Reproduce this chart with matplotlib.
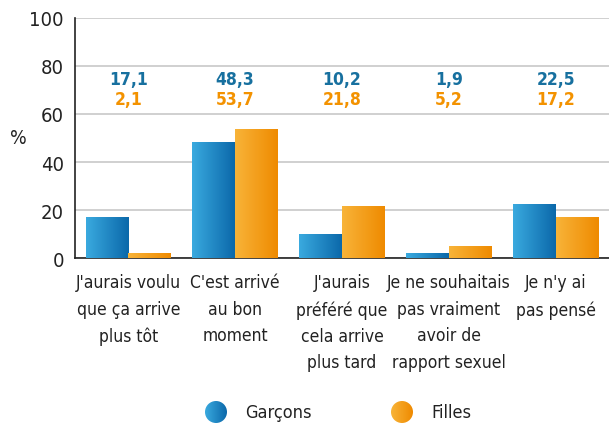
import matplotlib
import matplotlib.pyplot as plt
import numpy as np
from matplotlib.colors import LinearSegmentedColormap
from matplotlib.patches import Circle

matplotlib.use('agg')

categories = ["J'aurais voulu\nque ça arrive\nplus tôt",
              "C'est arrivé\nau bon\nmoment",
              "J'aurais\npréféré que\ncela arrive\nplus tard",
              "Je ne souhaitais\npas vraiment\navoir de\nrapport sexuel",
              "Je n'y ai\npas pensé"]
garcons = [17.1, 48.3, 10.2, 1.9, 22.5]
filles = [2.1, 53.7, 21.8, 5.2, 17.2]
series_names = ['Garçons', 'Filles']

plt.rcParams['font.family'] = ['DejaVu Sans']
plt.rcParams['font.stretch'] = 'condensed'

blue_cmap = LinearSegmentedColormap.from_list('b', ['#3aaadf', '#0b68aa'])
orange_cmap = LinearSegmentedColormap.from_list('o', ['#f8b439', '#ef8a00'])
text_col = '#222222'

fig = plt.figure(figsize=(6.09, 4.31), dpi=100)
ax = fig.add_axes([0.123, 0.399, 0.877, 0.557])

x = np.arange(len(categories))
w = 0.4
grad = np.linspace(0, 1, 256).reshape(1, -1)


def gradient_fill(axis, patch, cmap, box):
    patch.set_facecolor('none')
    patch.set_edgecolor('none')
    im = axis.imshow(grad, cmap=cmap, aspect='auto', zorder=3, extent=box)
    im.set_clip_path(patch)


b1 = ax.bar(x - w / 2, garcons, w, zorder=3)
b2 = ax.bar(x + w / 2, filles, w, zorder=3)
for bars, cmap in [(b1, blue_cmap), (b2, orange_cmap)]:
    for b in bars:
        x0, y0 = b.get_x(), b.get_y()
        gradient_fill(ax, b, cmap, [x0, x0 + b.get_width(), y0, y0 + b.get_height()])

for i in range(len(categories)):
    ax.text(x[i], 74.6, f'{garcons[i]:.1f}'.replace('.', ','), ha='center', va='center',
            color='#17709f', fontsize=12.5, fontweight='bold')
    ax.text(x[i], 66.3, f'{filles[i]:.1f}'.replace('.', ','), ha='center', va='center',
            color='#f39200', fontsize=12.5, fontweight='bold')

ax.set_xlim(-0.5, 4.5)
ax.set_ylim(0, 100)
ax.set_yticks([0, 20, 40, 60, 80, 100])
ax.set_xticks(x)
ax.set_xticklabels(categories, fontsize=12.5, color=text_col, linespacing=1.6)
ax.tick_params(axis='both', length=0, colors=text_col)
ax.tick_params(axis='y', pad=8, labelsize=14.5)
ax.tick_params(axis='x', pad=11)
ax.yaxis.grid(True, color='#c8c8c8', linewidth=1.2)
ax.set_axisbelow(True)
for s in ['top', 'right']:
    ax.spines[s].set_visible(False)
for s in ['left', 'bottom']:
    ax.spines[s].set_color(text_col)
    ax.spines[s].set_linewidth(1.2)
ax.set_ylabel('%', rotation=0, fontsize=14, color=text_col, va='center')
ax.yaxis.set_label_coords(-0.105, 0.5)

# legend drawn in a pixel-coordinate overlay
lax = fig.add_axes([0, 0, 1, 1])
lax.set_xlim(0, 609)
lax.set_ylim(431, 0)
lax.axis('off')
for cx, name, cmap in [(216, series_names[0], blue_cmap), (402, series_names[1], orange_cmap)]:
    c = Circle((cx, 413), 11)
    lax.add_patch(c)
    gradient_fill(lax, c, cmap, [cx - 11, cx + 11, 424, 402])
    lax.text(cx + 29, 413, name, fontsize=13, color=text_col, va='center', ha='left')

plt.savefig('out.png')
